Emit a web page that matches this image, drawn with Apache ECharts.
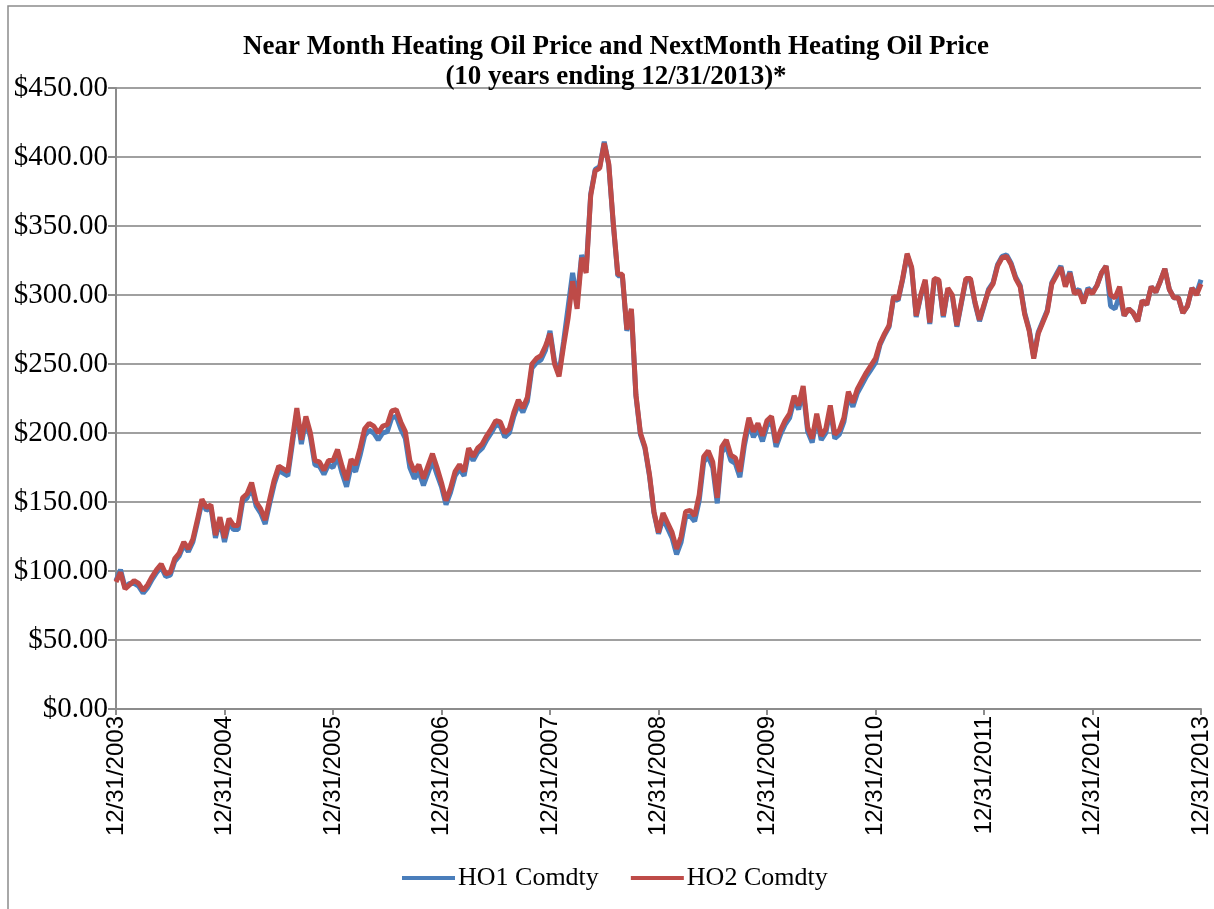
<!DOCTYPE html>
<html>
<head>
<meta charset="utf-8">
<script src="https://cdn.jsdelivr.net/npm/echarts@6/dist/echarts.min.js"></script>
<style>
  html, body { margin: 0; padding: 0; background: #fff; }
  #chart { width: 1214px; height: 909px; }
</style>
</head>
<body>
<div id="chart"></div>
<script>
// semi-monthly readings, 12/31/2003 .. 12/31/2013 (one row per year)
var ho1 = [
  93, 101, 88, 91,
  91, 89, 84, 88, 94, 99, 103, 96, 97, 107, 111, 119, 114, 121, 135, 150, 144, 146, 124, 137,
  121, 135, 130, 130, 150, 153, 161, 147, 142, 134, 149, 163, 173, 171, 169, 192, 215, 192, 209, 197, 177, 176, 170, 177,
  175, 183, 171, 161, 176, 172, 184, 198, 202, 200, 195, 200, 201, 211, 212, 203, 196, 175, 167, 172, 162, 171, 180, 170,
  161, 148, 157, 169, 174, 169, 186, 180, 186, 189, 195, 200, 206, 205, 197, 200, 212, 221, 215, 223, 247, 251, 253, 260,
  274, 252, 243, 266, 291, 316, 296, 329, 318, 373, 391, 393, 411, 394, 351, 314, 314, 274, 289, 227, 199, 189, 169, 142,
  127, 138, 131, 124, 112, 121, 139, 140, 136, 151, 179, 183, 175, 149, 186, 191, 180, 178, 168, 191, 207, 197, 203, 194,
  205, 209, 190, 199, 206, 211, 224, 217, 231, 201, 193, 211, 195, 200, 217, 196, 199, 208, 227, 219, 229, 235, 241, 246,
  251, 264, 271, 277, 298, 296, 311, 329, 319, 284, 299, 310, 279, 311, 310, 284, 304, 299, 277, 294, 311, 311, 294, 281,
  292, 304, 309, 322, 328, 329, 323, 313, 307, 287, 275, 255, 273, 281, 289, 309, 315, 321, 307, 317, 302, 304, 295, 305,
  302, 307, 316, 321, 292, 290, 300, 285, 290, 287, 281, 296, 293, 306, 302, 310, 319, 304, 298, 298, 287, 292, 305, 301,
  311
];
var ho2 = [
  92, 99, 87, 90,
  93, 91, 86, 90, 96, 101, 105, 98, 99, 109, 113, 121, 116, 123, 137, 152, 146, 148, 126, 139,
  124, 138, 133, 133, 153, 156, 164, 150, 145, 137, 152, 166, 176, 174, 172, 195, 218, 195, 212, 200, 180, 179, 173, 180,
  180, 188, 176, 166, 181, 177, 189, 203, 207, 205, 200, 205, 206, 216, 217, 208, 201, 180, 172, 177, 167, 176, 185, 175,
  164, 151, 160, 172, 177, 172, 189, 183, 189, 192, 198, 203, 209, 208, 200, 203, 215, 224, 218, 226, 250, 254, 256, 263,
  272, 250, 241, 263, 283, 310, 290, 327, 316, 372, 390, 392, 410, 395, 352, 315, 315, 275, 290, 228, 200, 190, 170, 143,
  128, 142, 135, 128, 116, 125, 143, 144, 140, 155, 183, 187, 179, 153, 190, 195, 184, 182, 172, 195, 211, 201, 207, 198,
  209, 212, 193, 202, 209, 214, 227, 220, 234, 204, 196, 214, 198, 203, 220, 199, 202, 211, 230, 222, 232, 238, 244, 249,
  254, 265, 272, 278, 299, 297, 312, 330, 320, 285, 300, 311, 280, 312, 311, 285, 305, 300, 278, 295, 312, 312, 295, 282,
  293, 303, 308, 321, 327, 328, 322, 312, 306, 286, 274, 254, 272, 280, 288, 308, 314, 320, 306, 316, 301, 303, 294, 304,
  301, 307, 316, 321, 300, 298, 306, 285, 290, 287, 281, 296, 293, 306, 302, 310, 319, 304, 298, 298, 287, 292, 305, 300,
  308
];
var seriesNames = ['HO1 Comdty', 'HO2 Comdty'];
var titleLines = ['Near Month Heating Oil Price and NextMonth Heating Oil Price', '(10 years ending 12/31/2013)*'];

// date categories: 15th and month end, labels shown on every 12/31
var monthEnd = [31, 28, 31, 30, 31, 30, 31, 31, 30, 31, 30, 31];
var dates = ['12/31/2003'];
for (var y = 2004; y <= 2013; y++) {
  for (var m = 1; m <= 12; m++) {
    var last = monthEnd[m - 1];
    if (m === 2 && y % 4 === 0) last = 29;
    dates.push(m + '/15/' + y);
    dates.push(m + '/' + last + '/' + y);
  }
}

var chart = echarts.init(document.getElementById('chart'));

var option = {
  animation: false,
  backgroundColor: '#fff',
  title: {
    text: titleLines.join('\n'),
    left: 611,
    textAlign: 'center',
    top: 27,
    textStyle: {
      fontFamily: 'Liberation Serif',
      fontWeight: 'bold',
      fontSize: 27,
      lineHeight: 30,
      color: '#000'
    }
  },
  graphic: [{
    type: 'rect',
    shape: { x: 8, y: 6, width: 1300, height: 1000 },
    style: { fill: 'none', stroke: '#8c8c8c', lineWidth: 1.5 },
    silent: true
  }],
  legend: {
    data: seriesNames,
    left: 397,
    top: 860,
    itemWidth: 53,
    itemHeight: 4,
    itemGap: 32,
    icon: 'rect',
    textStyle: { fontFamily: 'Liberation Serif', fontSize: 26, color: '#000', padding: [0, 0, 0, -2] }
  },
  grid: { left: 116, right: 13, top: 88, bottom: 200 },
  xAxis: {
    type: 'category',
    boundaryGap: false,
    data: dates,
    axisLine: { lineStyle: { color: '#8c8c8c', width: 2 } },
    axisTick: { interval: 23, length: 6, lineStyle: { color: '#8c8c8c', width: 2 } },
    axisLabel: {
      interval: 23,
      rotate: 90,
      margin: 7,
      fontFamily: 'Liberation Sans',
      fontSize: 24,
      color: '#000'
    },
    splitLine: { show: false }
  },
  yAxis: {
    type: 'value',
    min: 0,
    max: 450,
    interval: 50,
    axisLine: { show: true, lineStyle: { color: '#8c8c8c', width: 2 } },
    axisTick: { show: true, length: 8, lineStyle: { color: '#8c8c8c', width: 2 } },
    axisLabel: {
      margin: 8,
      fontFamily: 'Liberation Serif',
      fontSize: 29,
      color: '#000',
      formatter: function (v) { return '$' + v.toFixed(2); }
    },
    splitLine: { lineStyle: { color: '#a0a0a0', width: 2 } }
  },
  series: [
    {
      name: seriesNames[0],
      type: 'line',
      data: ho1,
      showSymbol: false,
      lineStyle: { color: '#4a7ebb', width: 5 },
      itemStyle: { color: '#4a7ebb' }
    },
    {
      name: seriesNames[1],
      type: 'line',
      data: ho2,
      showSymbol: false,
      lineStyle: { color: '#be4b48', width: 5 },
      itemStyle: { color: '#be4b48' }
    }
  ]
};

chart.setOption(option);
</script>
</body>
</html>
